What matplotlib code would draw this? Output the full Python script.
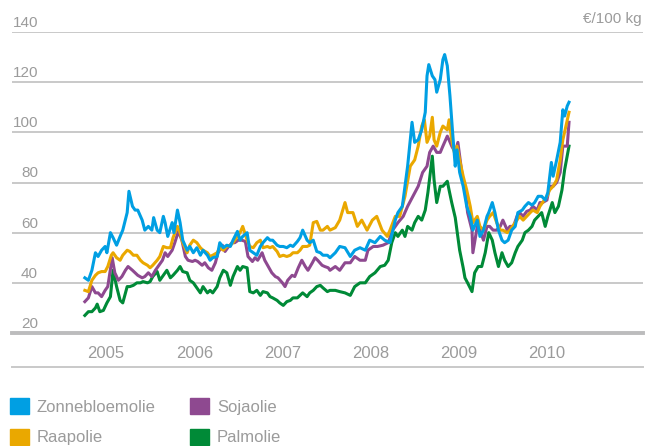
import matplotlib
matplotlib.use("Agg")
import matplotlib.pyplot as plt
from matplotlib.patches import Patch

plt.rcParams["font.family"] = ["Liberation Sans", "DejaVu Sans"]

# prices in euro per 100 kg, dates as decimal years
zonne_t = [2004.76, 2004.80, 2004.84, 2004.88, 2004.91, 2004.95, 2004.99, 2005.01, 2005.05, 2005.08,
           2005.12, 2005.16, 2005.19, 2005.24, 2005.26, 2005.30, 2005.33, 2005.36, 2005.41, 2005.44,
           2005.48, 2005.52, 2005.54, 2005.58, 2005.61, 2005.65, 2005.67, 2005.70, 2005.75, 2005.77,
           2005.81, 2005.84, 2005.87, 2005.92, 2005.95, 2005.99, 2006.03, 2006.07, 2006.10, 2006.15,
           2006.18, 2006.21, 2006.26, 2006.29, 2006.33, 2006.37, 2006.41, 2006.44, 2006.49, 2006.52,
           2006.55, 2006.60, 2006.63, 2006.67, 2006.71, 2006.75, 2006.78, 2006.83, 2006.86, 2006.89,
           2006.94, 2006.97, 2007.01, 2007.05, 2007.09, 2007.12, 2007.17, 2007.20, 2007.23, 2007.28,
           2007.31, 2007.35, 2007.39, 2007.43, 2007.46, 2007.51, 2007.54, 2007.60, 2007.65, 2007.71,
           2007.77, 2007.82, 2007.88, 2007.94, 2007.99, 2008.05, 2008.11, 2008.16, 2008.22, 2008.28,
           2008.31, 2008.36, 2008.39, 2008.42, 2008.47, 2008.50, 2008.54, 2008.58, 2008.62, 2008.64,
           2008.66, 2008.70, 2008.73, 2008.75, 2008.79, 2008.82, 2008.84, 2008.87, 2008.90, 2008.93,
           2008.96, 2008.98, 2009.01, 2009.05, 2009.09, 2009.13, 2009.16, 2009.21, 2009.24, 2009.28,
           2009.32, 2009.34, 2009.38, 2009.41, 2009.45, 2009.49, 2009.52, 2009.56, 2009.60, 2009.64,
           2009.67, 2009.72, 2009.75, 2009.79, 2009.83, 2009.86, 2009.90, 2009.94, 2009.98, 2010.01,
           2010.05, 2010.07, 2010.11, 2010.15, 2010.18, 2010.20, 2010.23, 2010.25]
zonne_v = [42, 41, 45, 52, 50.5, 53, 54.5, 52, 60, 58,
           55, 58.5, 61, 68, 76.5, 70.5, 69, 69, 65, 61,
           62.5, 61, 66, 61, 60, 66.5, 64, 58.5, 64, 60,
           69, 64, 57, 53, 54.5, 52, 54, 51, 53, 51,
           49, 50, 50.5, 56, 54, 55, 54.5, 57, 60.5, 57,
           58.5, 60, 53, 52, 51, 54.5, 56, 58, 57, 57,
           55, 54.5, 54.5, 54, 55, 54.5, 56.5, 58, 61, 57,
           56, 57, 52.5, 52, 51, 51, 50, 52, 54.5, 54,
           50.5, 53, 54, 53, 57, 56, 58.5, 57, 56, 65,
           68, 70.5, 78.5, 86.5, 104, 96, 97, 101, 108, 122.5,
           127, 122.5, 121, 116, 121, 129, 131, 126.5, 114.5, 100,
           86.5, 93, 84, 78.5, 70.5, 66.5, 61, 65, 58.5, 61,
           66.5, 68, 72, 68, 61, 57, 56, 57, 61, 62.5,
           68, 69, 70.5, 72, 71, 72, 74.5, 74.5, 73, 76,
           88, 82.5, 89, 96, 109, 106.5, 110.5, 112]

raap_t = [2004.76, 2004.80, 2004.84, 2004.88, 2004.91, 2004.95, 2004.99, 2005.02, 2005.06, 2005.08,
          2005.12, 2005.16, 2005.19, 2005.24, 2005.27, 2005.31, 2005.35, 2005.39, 2005.42, 2005.47,
          2005.50, 2005.53, 2005.58, 2005.61, 2005.65, 2005.69, 2005.73, 2005.76, 2005.81, 2005.84,
          2005.87, 2005.92, 2005.95, 2005.99, 2006.03, 2006.07, 2006.10, 2006.15, 2006.18, 2006.21,
          2006.26, 2006.29, 2006.33, 2006.37, 2006.41, 2006.44, 2006.49, 2006.52, 2006.55, 2006.60,
          2006.63, 2006.67, 2006.71, 2006.75, 2006.78, 2006.83, 2006.86, 2006.89, 2006.94, 2006.97,
          2007.01, 2007.05, 2007.09, 2007.12, 2007.17, 2007.20, 2007.23, 2007.28, 2007.31, 2007.35,
          2007.39, 2007.43, 2007.46, 2007.51, 2007.54, 2007.60, 2007.65, 2007.71, 2007.74, 2007.80,
          2007.85, 2007.90, 2007.96, 2008.02, 2008.07, 2008.13, 2008.19, 2008.22, 2008.28, 2008.33,
          2008.39, 2008.45, 2008.50, 2008.54, 2008.58, 2008.61, 2008.64, 2008.67, 2008.70, 2008.72,
          2008.75, 2008.79, 2008.82, 2008.87, 2008.89, 2008.92, 2008.95, 2008.98, 2009.01, 2009.05,
          2009.09, 2009.13, 2009.16, 2009.21, 2009.24, 2009.28, 2009.32, 2009.35, 2009.39, 2009.43,
          2009.47, 2009.50, 2009.55, 2009.58, 2009.61, 2009.66, 2009.69, 2009.73, 2009.77, 2009.81,
          2009.84, 2009.89, 2009.92, 2009.95, 2010.00, 2010.03, 2010.07, 2010.11, 2010.15, 2010.18,
          2010.23, 2010.25]
raap_v = [37, 36.5, 41, 43, 44, 44.5, 44.5, 46.5, 51, 52,
          50, 49, 51, 53, 52.5, 51, 51, 49, 48, 47,
          46, 47, 49, 50.5, 54.5, 54, 54, 58, 62.5, 60,
          56, 52, 55, 57, 56, 54, 53, 52, 50.5, 51,
          52, 54, 53, 54.5, 55, 56, 58.5, 60, 62.5, 57,
          54.5, 54, 56, 57, 54, 54.5, 54, 54.5, 52.5, 50.5,
          51, 50.5, 51, 52, 52, 53, 54.5, 54.5, 55, 64,
          64.5, 61, 61, 62.5, 61, 62, 65, 72, 68, 68,
          62.5, 65, 61, 65, 66.5, 61, 58.5, 61, 66.5, 66.5,
          74.5, 86.5, 89, 94.5, 102.5, 105, 96, 98.5, 106, 97,
          94.5, 100, 102.5, 101, 105, 97, 92, 94.5, 89, 82.5,
          77, 70.5, 64, 66.5, 62.5, 61, 65, 66.5, 68, 64,
          61, 61, 60, 61, 62.5, 65, 66.5, 65, 66.5, 68,
          69, 68, 70.5, 72, 74.5, 77, 78.5, 81, 89, 97,
          105, 108]

soja_t = [2004.76, 2004.80, 2004.84, 2004.88, 2004.91, 2004.95, 2004.99, 2005.02, 2005.07, 2005.10,
          2005.14, 2005.18, 2005.22, 2005.25, 2005.30, 2005.33, 2005.36, 2005.41, 2005.44, 2005.48,
          2005.52, 2005.56, 2005.59, 2005.64, 2005.67, 2005.70, 2005.75, 2005.78, 2005.82, 2005.86,
          2005.90, 2005.93, 2005.98, 2006.01, 2006.04, 2006.09, 2006.12, 2006.16, 2006.20, 2006.24,
          2006.27, 2006.32, 2006.35, 2006.38, 2006.43, 2006.46, 2006.50, 2006.54, 2006.58, 2006.61,
          2006.66, 2006.69, 2006.72, 2006.77, 2006.80, 2006.84, 2006.88, 2006.92, 2006.95, 2007.00,
          2007.03, 2007.06, 2007.11, 2007.14, 2007.18, 2007.22, 2007.26, 2007.29, 2007.34, 2007.37,
          2007.40, 2007.45, 2007.48, 2007.52, 2007.54, 2007.60, 2007.65, 2007.71, 2007.77, 2007.82,
          2007.88, 2007.94, 2007.97, 2008.03, 2008.08, 2008.14, 2008.20, 2008.25, 2008.31, 2008.37,
          2008.42, 2008.48, 2008.54, 2008.59, 2008.64, 2008.67, 2008.71, 2008.75, 2008.79, 2008.82,
          2008.87, 2008.89, 2008.92, 2008.96, 2008.99, 2009.04, 2009.07, 2009.10, 2009.15, 2009.16,
          2009.21, 2009.24, 2009.28, 2009.32, 2009.35, 2009.39, 2009.43, 2009.47, 2009.50, 2009.55,
          2009.58, 2009.62, 2009.66, 2009.69, 2009.73, 2009.77, 2009.81, 2009.84, 2009.89, 2009.92,
          2009.95, 2010.00, 2010.03, 2010.07, 2010.11, 2010.15, 2010.18, 2010.23, 2010.25]
soja_v = [32.5, 34, 38.5, 36, 36, 34.5, 37, 38.5, 50, 44,
          41, 42.5, 45, 46.5, 45, 44, 43, 42, 42.5, 44,
          42.5, 45, 46.5, 49, 52, 50.5, 53, 56, 60.5, 57,
          50.5, 49, 48.5, 49, 48.5, 47, 48, 46, 45, 48,
          52, 55, 52.5, 54, 56, 56, 57, 57, 56.5, 50.5,
          48.5, 50, 49, 52, 49, 46.5, 44, 42.5, 42, 40,
          38.5, 41, 43, 42.5, 46, 49, 46.5, 45, 48, 50,
          49, 47, 46.5, 46, 45, 46.5, 45, 48, 48, 50.5,
          49, 49, 53, 54.5, 54.5, 55, 56, 61, 64, 66.5,
          70.5, 74.5, 78.5, 84, 86.5, 92, 94.5, 92, 92, 94.5,
          98.5, 97, 94.5, 92, 96, 82.5, 78.5, 68, 61, 52,
          62.5, 61, 57, 62.5, 62.5, 61, 61, 62.5, 65, 61,
          62.5, 62.5, 66.5, 68, 66.5, 68.5, 69, 70.5, 69, 72,
          72, 73, 78.5, 78.5, 80, 84, 94.5, 94.5, 104]

palm_t = [2004.76, 2004.80, 2004.84, 2004.88, 2004.90, 2004.93, 2004.97, 2005.01, 2005.05, 2005.08,
          2005.12, 2005.16, 2005.19, 2005.24, 2005.27, 2005.31, 2005.35, 2005.39, 2005.42, 2005.47,
          2005.50, 2005.53, 2005.58, 2005.61, 2005.65, 2005.69, 2005.73, 2005.76, 2005.81, 2005.84,
          2005.87, 2005.92, 2005.95, 2005.99, 2006.03, 2006.07, 2006.10, 2006.15, 2006.18, 2006.21,
          2006.26, 2006.29, 2006.33, 2006.37, 2006.41, 2006.44, 2006.49, 2006.52, 2006.55, 2006.60,
          2006.63, 2006.67, 2006.71, 2006.75, 2006.78, 2006.83, 2006.86, 2006.89, 2006.94, 2006.97,
          2007.01, 2007.05, 2007.09, 2007.12, 2007.17, 2007.20, 2007.23, 2007.28, 2007.31, 2007.35,
          2007.39, 2007.43, 2007.46, 2007.51, 2007.54, 2007.60, 2007.65, 2007.71, 2007.77, 2007.82,
          2007.88, 2007.94, 2007.99, 2008.05, 2008.11, 2008.16, 2008.20, 2008.24, 2008.28, 2008.31,
          2008.36, 2008.39, 2008.42, 2008.47, 2008.50, 2008.54, 2008.58, 2008.62, 2008.65, 2008.70,
          2008.72, 2008.75, 2008.79, 2008.82, 2008.87, 2008.89, 2008.92, 2008.96, 2008.99, 2009.01,
          2009.05, 2009.07, 2009.10, 2009.15, 2009.18, 2009.22, 2009.26, 2009.30, 2009.34, 2009.38,
          2009.41, 2009.45, 2009.49, 2009.52, 2009.56, 2009.60, 2009.64, 2009.67, 2009.72, 2009.75,
          2009.79, 2009.83, 2009.86, 2009.90, 2009.94, 2009.98, 2010.01, 2010.06, 2010.09, 2010.13,
          2010.17, 2010.20, 2010.25]
palm_v = [27, 28.5, 28.5, 30, 31.5, 28.5, 29, 32, 34.5, 45,
          38.5, 33, 32, 38.5, 38.5, 39, 40, 40, 40.5, 40,
          40.5, 42.5, 44.5, 41, 43, 45, 42, 43, 45, 46.5,
          44.5, 44, 41, 40, 38, 36, 38.5, 36, 37, 36,
          38.5, 42, 45, 44, 39, 42.5, 46.5, 45, 46.5, 46,
          36.5, 36, 37, 35, 36.5, 36, 34.5, 34, 33, 32,
          31, 32.5, 33, 34, 34, 35, 36, 34.5, 36, 37,
          38.5, 39, 38, 36.5, 37, 37, 36.5, 36, 35, 38.5,
          40, 40, 42.5, 44, 46.5, 47, 49, 56, 60, 58.5,
          61, 58.5, 62.5, 61, 64, 66.5, 65, 69, 76, 90.5,
          81, 72, 78.5, 78.5, 80.5, 77, 72, 66, 58, 53,
          46, 42, 40, 36.5, 44, 46.5, 46.5, 52, 60, 57,
          52, 46.5, 52, 49, 46.5, 48, 52, 54.5, 57, 60,
          61, 62.5, 65, 66.5, 68, 62.5, 66.5, 72, 68, 70.5,
          77, 85, 94.5]

series = [
    ("Zonnebloemolie", zonne_t, zonne_v, "#009fe3"),
    ("Raapolie", raap_t, raap_v, "#eaa800"),
    ("Sojaolie", soja_t, soja_v, "#8e4990"),
    ("Palmolie", palm_t, palm_v, "#008a37"),
]
years = [2005, 2006, 2007, 2008, 2009, 2010]
y_ticks = [20, 40, 60, 80, 100, 120, 140]

grey_txt = "#9b9b9b"
grid_col = "#c9c9c9"

fig = plt.figure(figsize=(6.59, 4.46), dpi=100)
ax = fig.add_axes([12 / 659, 113 / 446, 631 / 659, 301 / 446])
ax.set_xlim(2003.934, 2011.089)
ax.set_ylim(20, 140)

for v in y_ticks[1:]:
    ax.axhline(v, color=grid_col, lw=1.4, zorder=1)
ax.axhline(20, color="#bcbcbd", lw=2.8, zorder=1, clip_on=False)
ax.plot([0, 1], [-0.113, -0.113], transform=ax.transAxes, color=grid_col,
        lw=1.4, clip_on=False)

# draw palm first so blue stays on top
for name, t, v, c in [series[3], series[2], series[1], series[0]]:
    ax.plot(t, v, color=c, lw=2.2, zorder=3, solid_joinstyle="round")

for v in y_ticks:
    ax.text(0.0412, v + 2, str(v), transform=ax.get_yaxis_transform(),
            ha="right", va="baseline", fontsize=11, color=grey_txt)

ax.text(0.998, 143.6, "€/100 kg", transform=ax.get_yaxis_transform(),
        ha="right", va="baseline", fontsize=11, color=grey_txt, clip_on=False)

ax.set_xticks(years)
ax.set_xticklabels([str(y) for y in years], fontsize=12, color=grey_txt)
ax.tick_params(axis="x", length=0, pad=9)
ax.set_yticks([])
for s in ax.spines.values():
    s.set_visible(False)
ax.patch.set_alpha(0)

handles = [Patch(color=c, label=n) for n, t, v, c in series]
fig.legend(handles=handles, ncol=2, loc="upper left",
           bbox_to_anchor=(10 / 659, 1 - 398 / 446), frameon=False,
           fontsize=12, labelcolor=grey_txt, handlelength=1.14, handleheight=1.14,
           handletextpad=0.45, columnspacing=2.1, labelspacing=0.82,
           borderpad=0, borderaxespad=0)

fig.savefig("out.png", dpi=100)
